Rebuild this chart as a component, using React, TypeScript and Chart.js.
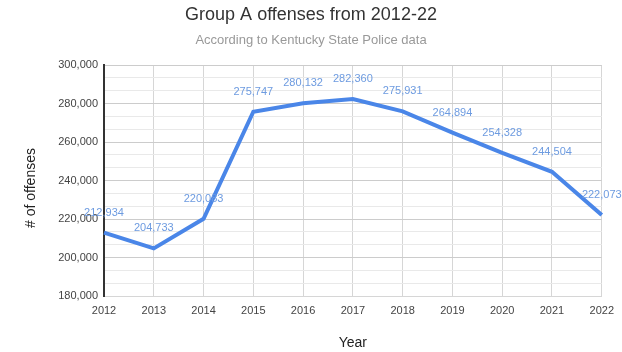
import React, { useEffect, useRef } from "react";
import { Chart, registerables } from "chart.js";

Chart.register(...registerables);

const years = ["2012", "2013", "2014", "2015", "2016", "2017", "2018", "2019", "2020", "2021", "2022"];
const offenses = [212934, 204733, 220083, 275747, 280132, 282360, 275931, 264894, 254328, 244504, 222073];
const titleText = "Group A offenses from 2012-22";
const subtitleText = "According to Kentucky State Police data";
const yAxisTitle = "# of offenses";
const xAxisTitle = "Year";

const FONT = "'Liberation Sans', Arial, sans-serif";
const fmt = (v: number) => v.toLocaleString("en-US");
const isMajor = (v: number) => Math.abs(Math.round(v / 20000) * 20000 - v) < 1;

const textPlugin = {
  id: "texts",
  afterDraw(chart: any) {
    const ctx = chart.ctx;
    const ca = chart.chartArea;
    ctx.save();
    ctx.textAlign = "center";
    ctx.textBaseline = "middle";
    ctx.fillStyle = "#333333";
    ctx.font = `18px ${FONT}`;
    ctx.fillText(titleText, chart.width / 2, 15);
    ctx.fillStyle = "#999999";
    ctx.font = `13px ${FONT}`;
    ctx.fillText(subtitleText, chart.width / 2, 40);
    ctx.fillStyle = "#222222";
    ctx.font = `14px ${FONT}`;
    ctx.fillText(xAxisTitle, (ca.left + ca.right) / 2, 343);
    ctx.translate(31, 188);
    ctx.rotate(-Math.PI / 2);
    ctx.fillText(yAxisTitle, 0, 0);
    ctx.restore();
  },
};

const labelPlugin = {
  id: "pointLabels",
  afterDatasetsDraw(chart: any) {
    const ctx = chart.ctx;
    const meta = chart.getDatasetMeta(0);
    ctx.save();
    ctx.font = `11px ${FONT}`;
    ctx.fillStyle = "#6d9be0";
    ctx.textAlign = "center";
    ctx.textBaseline = "middle";
    meta.data.forEach((pt: any, i: number) => {
      ctx.fillText(fmt(offenses[i]), pt.x, pt.y - 20);
    });
    ctx.restore();
  },
};

export default function App() {
  const ref = useRef<HTMLCanvasElement>(null);
  useEffect(() => {
    if (!ref.current) return;
    const chart = new Chart(ref.current, {
      type: "line",
      data: {
        labels: years,
        datasets: [
          {
            data: offenses,
            borderColor: "#4a86e8",
            borderWidth: 4,
            pointRadius: 0,
            tension: 0,
            fill: false,
          },
        ],
      },
      options: {
        animation: false,
        responsive: false,
        maintainAspectRatio: false,
        layout: { padding: { top: 65, right: 20, left: 0, bottom: 0 } },
        plugins: { legend: { display: false }, tooltip: { enabled: false } },
        scales: {
          x: {
            offset: false,
            grid: { color: "#d6d6d6", drawTicks: false },
            border: { color: "#d6d6d6" },
            ticks: { color: "#444444", font: { family: FONT, size: 11 }, padding: 8, maxRotation: 0, autoSkip: false },
            afterFit: (s: any) => { s.height = 56; },
          },
          y: {
            min: 180000,
            max: 300000,
            grid: {
              drawTicks: false,
              color: (c: any) => (isMajor(c.tick.value) ? "#cccccc" : "#e9e9e9"),
            },
            border: { color: "#333333", width: 2 },
            ticks: {
              stepSize: 20000 / 3,
              autoSkip: false,
              color: "#444444",
              font: { family: FONT, size: 11 },
              padding: 6,
              callback: (v: any) => (isMajor(Number(v)) ? fmt(Math.round(Number(v))) : ""),
            },
            afterFit: (s: any) => { s.width = 104; },
          },
        },
      },
      plugins: [textPlugin, labelPlugin],
    });
    return () => chart.destroy();
  }, []);
  return (
    <div style={{ position: "absolute", left: 0, top: 0, width: 622, height: 352, background: "#fff" }}>
      <canvas ref={ref} width={622} height={352} style={{ width: 622, height: 352 }} />
    </div>
  );
}
